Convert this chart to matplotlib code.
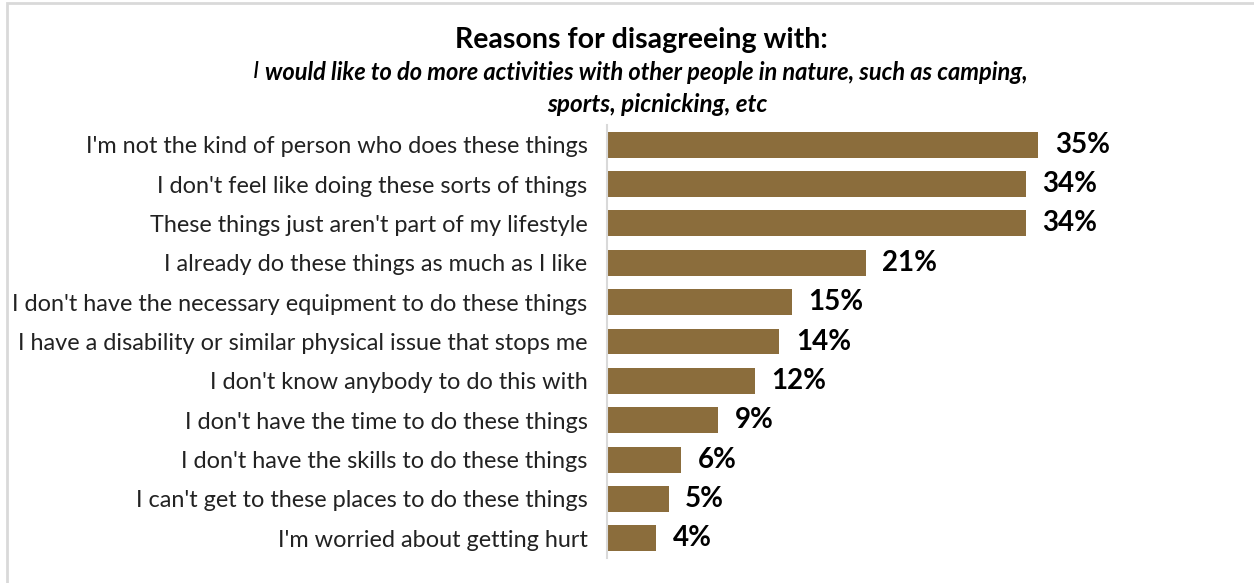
import matplotlib.pyplot as plt
from matplotlib.patches import Rectangle

reasons = [
    "I'm not the kind of person who does these things",
    "I don't feel like doing these sorts of things",
    "These things just aren't part of my lifestyle",
    "I already do these things as much as I like",
    "I don't have the necessary equipment to do these things",
    "I have a disability or similar physical issue that stops me",
    "I don't know anybody to do this with",
    "I don't have the time to do these things",
    "I don't have the skills to do these things",
    "I can't get to these places to do these things",
    "I'm worried about getting hurt",
]
shares = [35, 34, 34, 21, 15, 14, 12, 9, 6, 5, 4]

bar_color = "#8B6D3C"
plt.rcParams["font.family"] = ["Lato", "DejaVu Sans"]

W, H = 1254, 583
fig = plt.figure(figsize=(W / 100, H / 100), dpi=100)

# light grey frame round the chart area
fig.patches.append(Rectangle((7 / W, -0.1), 1.2, (H - 3) / H + 0.1,
                             transform=fig.transFigure, fill=False,
                             edgecolor="#D9D9D9", linewidth=2))

ax_left, ax_right = 607 / W, 1191 / W
ax = fig.add_axes([ax_left, (H - 558) / H, ax_right - ax_left, (558 - 125) / H])

px_per_pct = 431 / 35
ax.set_xlim(0, (1191 - 607) / px_per_pct)
ypos = list(range(len(reasons)))
ax.barh(ypos, shares, height=0.66, color=bar_color)
ax.set_ylim(len(reasons) - 0.5, -0.5)

ax.set_yticks(ypos)
ax.set_yticklabels(reasons, fontsize=16.9, color="#222222")
ax.tick_params(axis="y", length=0, pad=14)
ax.set_xticks([])
for side in ["top", "right", "bottom"]:
    ax.spines[side].set_visible(False)
ax.spines["left"].set_color("#D9D9D9")
ax.spines["left"].set_linewidth(1.5)

for y, v in zip(ypos, shares):
    ax.annotate(f"{v}%", (v, y), xytext=(12, 0), textcoords="offset points",
                ha="left", va="center", fontsize=20, fontweight="bold",
                color="black")

# title block
fig.text(641 / W, (H - 40) / H, "Reasons for disagreeing with:", ha="center",
         va="center", fontsize=20.5, fontweight="bold")
t2 = fig.text(646 / W, (H - 72) / H,
              "would like to do more activities with other people in nature, such as camping,",
              ha="center", va="center", fontsize=17, fontweight="bold",
              style="italic")
fig.text(657 / W, (H - 104) / H, "sports, picnicking, etc", ha="center",
         va="center", fontsize=17.5, fontweight="bold", style="italic")
ax.annotate("I ", xy=(0, 0.5), xycoords=t2, ha="right", va="center",
            fontsize=17, style="italic", annotation_clip=False)

fig.savefig("out.png", dpi=100)
